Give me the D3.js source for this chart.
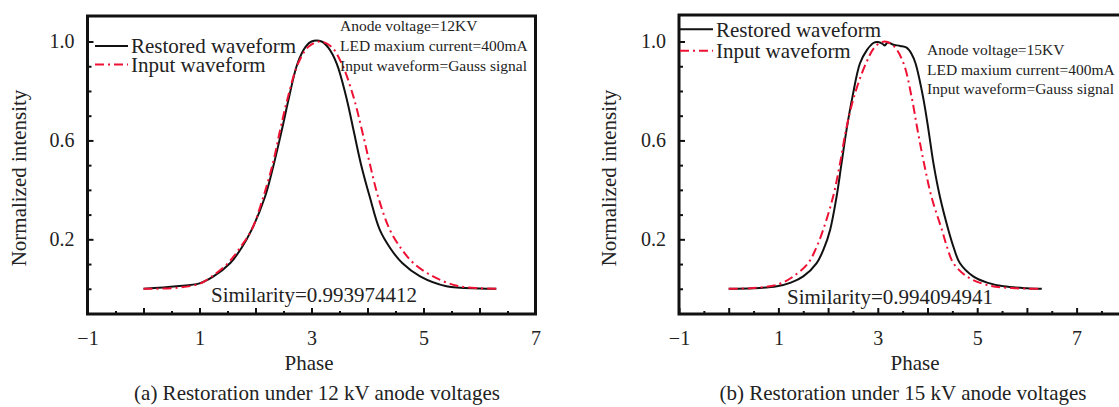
<!DOCTYPE html>
<html>
<head>
<meta charset="utf-8">
<script src="https://cdn.jsdelivr.net/npm/d3@7.9.0/dist/d3.min.js"></script>
<style>
  body { margin: 0; background: #fff; }
  svg { display: block; }
  svg text { font-family: "Liberation Serif", "Times New Roman", serif; }
</style>
</head>
<body>
<svg id="chart" width="1119" height="407"></svg>
<script>
// [phase, normalized intensity]
const restored12 = [[0,0],[0.59,0.01],[1.0,0.022],[1.25,0.05],[1.55,0.104],[1.75,0.165],[1.93,0.238],[2.17,0.372],[2.33,0.507],[2.47,0.642],[2.6,0.776],[2.75,0.911],[2.9,0.98],[3.0,1.0],[3.18,1.0],[3.3,0.975],[3.45,0.911],[3.62,0.776],[3.75,0.642],[3.88,0.507],[4.04,0.372],[4.22,0.238],[4.41,0.163],[4.62,0.104],[4.94,0.05],[5.41,0.01],[6.0,0.001],[6.3,0]];
const input12 = [[0,0],[0.6,0.004],[1.0,0.02],[1.22,0.05],[1.51,0.104],[1.72,0.165],[1.93,0.238],[2.14,0.372],[2.31,0.507],[2.44,0.642],[2.58,0.776],[2.76,0.911],[2.95,0.98],[3.15,1.0],[3.35,0.98],[3.54,0.911],[3.75,0.776],[3.9,0.642],[4.04,0.507],[4.19,0.372],[4.4,0.238],[4.6,0.163],[4.82,0.104],[5.17,0.05],[5.6,0.012],[6.0,0.002],[6.3,0]];
const restored15 = [[0,0],[0.5,0.002],[0.97,0.01],[1.25,0.025],[1.5,0.05],[1.77,0.104],[1.92,0.165],[2.04,0.238],[2.17,0.372],[2.27,0.507],[2.37,0.642],[2.49,0.776],[2.64,0.911],[2.78,0.965],[2.91,0.994],[3.0,0.998],[3.1,0.99],[3.14,0.984],[3.2,0.996],[3.3,0.988],[3.45,0.982],[3.58,0.975],[3.68,0.95],[3.76,0.911],[3.91,0.776],[4.02,0.642],[4.12,0.507],[4.25,0.372],[4.42,0.238],[4.53,0.165],[4.65,0.104],[4.92,0.05],[5.2,0.025],[5.53,0.01],[6.0,0.002],[6.3,0]];
const input15 = [[0,0],[0.5,0.003],[1.0,0.018],[1.3,0.05],[1.6,0.104],[1.76,0.165],[1.9,0.238],[2.1,0.372],[2.24,0.507],[2.36,0.642],[2.52,0.776],[2.76,0.911],[2.95,0.98],[3.14,1.0],[3.33,0.98],[3.52,0.911],[3.68,0.776],[3.8,0.642],[3.93,0.507],[4.08,0.372],[4.29,0.238],[4.4,0.165],[4.52,0.104],[4.79,0.05],[5.2,0.015],[5.7,0.003],[6.3,0]];

const xMajorTicks = [-1, 0, 1, 2, 3, 4, 5, 6, 7];
const xMinorTicks = [-0.5, 0.5, 1.5, 2.5, 3.5, 4.5, 5.5, 6.5, 7.5];
const yLabelTicks = [0.2, 0.6, 1.0];
const yMinorTicks = [0.0, 0.1, 0.3, 0.4, 0.5, 0.7, 0.8, 0.9];

const legendNames = ["Restored waveform", "Input waveform"];

const panels = [
  {
    restored: restored12, input: input12,
    xDomain: [-1, 7], xRange: [87.5, 535.5], top: 16,
    notes: ["Anode voltage=12KV", "LED maxium current=400mA", "Input waveform=Gauss signal"],
    notesX: 340, notesY: [31, 51, 71],
    legendX: 95, legendY: [46, 64.5],
    similarity: "Similarity=0.993974412", simX: 314, simY: 302,
    yTitleX: 26, phaseX: 309,
    caption: "(a) Restoration under 12 kV anode voltages", captionX: 317
  },
  {
    restored: restored15, input: input15,
    xDomain: [-1, 8], xRange: [679, 1126.3], top: 15,
    notes: ["Anode voltage=15KV", "LED maxium current=400mA", "Input waveform=Gauss signal"],
    notesX: 927, notesY: [55, 74.5, 94],
    legendX: 680, legendY: [29.3, 50.7],
    similarity: "Similarity=0.994094941", simX: 890, simY: 304,
    yTitleX: 616, phaseX: 915,
    caption: "(b) Restoration under 15 kV anode voltages", captionX: 903
  }
];

const svg = d3.select("#chart");
const red = "#ee1133";
const serif = "'Liberation Serif', 'Times New Roman', serif";

const y = d3.scaleLinear().domain([-0.1, 1.1]).range([313.5, 16.8]);

panels.forEach(p => {
  const x = d3.scaleLinear().domain(p.xDomain).range(p.xRange);
  const g = svg.append("g");
  const inside = v => v > p.xDomain[0] && v < p.xDomain[1];

  // minor ticks (inward)
  g.append("g")
    .attr("transform", "translate(0,314)")
    .call(d3.axisBottom(x).tickValues(xMinorTicks.filter(inside)).tickSize(-3).tickFormat(""))
    .call(a => a.select(".domain").remove());

  g.append("g")
    .attr("transform", "translate(0,314)")
    .call(d3.axisBottom(x).tickValues(xMajorTicks).tickSize(-6).tickPadding(17)
      .tickFormat(d => (d % 2 !== 0 ? (d < 0 ? "\u2212" + Math.abs(d) : d) : "")))
    .call(a => a.select(".domain").remove());

  g.append("g")
    .attr("transform", `translate(${p.xRange[0]},0)`)
    .call(d3.axisLeft(y).tickValues(yMinorTicks).tickSize(-4).tickFormat(""))
    .call(a => a.select(".domain").remove());

  g.append("g")
    .attr("transform", `translate(${p.xRange[0]},0)`)
    .call(d3.axisLeft(y).tickValues(yLabelTicks).tickSize(-6).tickPadding(13)
      .tickFormat(d3.format(".1f")))
    .call(a => a.select(".domain").remove());

  g.selectAll(".tick line").attr("stroke", "#111").attr("stroke-width", 2);
  g.selectAll(".tick text")
    .style("font-family", serif)
    .style("font-size", "20px")
    .attr("fill", "#222");

  // frame
  g.append("rect")
    .attr("x", p.xRange[0])
    .attr("y", p.top)
    .attr("width", p.xRange[1] - p.xRange[0])
    .attr("height", 314 - p.top)
    .attr("fill", "none")
    .attr("stroke", "#111")
    .attr("stroke-width", 3);

  const line = d3.line()
    .x(d => x(d[0]))
    .y(d => y(d[1]))
    .curve(d3.curveCatmullRom.alpha(0.5));

  g.append("path")
    .datum(p.restored)
    .attr("d", line)
    .attr("fill", "none")
    .attr("stroke", "#111")
    .attr("stroke-width", 2);

  g.append("path")
    .datum(p.input)
    .attr("d", line)
    .attr("fill", "none")
    .attr("stroke", red)
    .attr("stroke-width", 2)
    .attr("stroke-dasharray", "9,4,2,4");

  // legend
  legendNames.forEach((name, i) => {
    g.append("line")
      .attr("x1", p.legendX).attr("x2", p.legendX + 33)
      .attr("y1", p.legendY[i]).attr("y2", p.legendY[i])
      .attr("stroke", i === 0 ? "#111" : red)
      .attr("stroke-width", 2)
      .attr("stroke-dasharray", i === 0 ? null : "9,4,2,4");
    g.append("text")
      .attr("x", p.legendX + 36)
      .attr("y", p.legendY[i] + 7.3)
      .style("font-family", serif)
      .style("font-size", "21px")
      .attr("fill", "#222")
      .text(name);
  });

  // annotations
  p.notes.forEach((t, i) => {
    g.append("text")
      .attr("x", p.notesX)
      .attr("y", p.notesY[i])
      .style("font-family", serif)
      .style("font-size", "15.5px")
      .attr("fill", "#222")
      .text(t);
  });

  g.append("text")
    .attr("x", p.simX)
    .attr("y", p.simY)
    .attr("text-anchor", "middle")
    .style("font-family", serif)
    .style("font-size", "21px")
    .attr("fill", "#222")
    .text(p.similarity);

  // axis titles
  g.append("text")
    .attr("transform", `translate(${p.yTitleX},178) rotate(-90)`)
    .attr("text-anchor", "middle")
    .style("font-family", serif)
    .style("font-size", "21px")
    .attr("fill", "#222")
    .text("Normalized intensity");

  g.append("text")
    .attr("x", p.phaseX)
    .attr("y", 370)
    .attr("text-anchor", "middle")
    .style("font-family", serif)
    .style("font-size", "21px")
    .attr("fill", "#222")
    .text("Phase");

  g.append("text")
    .attr("x", p.captionX)
    .attr("y", 400)
    .attr("text-anchor", "middle")
    .style("font-family", serif)
    .style("font-size", "21px")
    .attr("fill", "#222")
    .text(p.caption);
});
</script>
</body>
</html>
